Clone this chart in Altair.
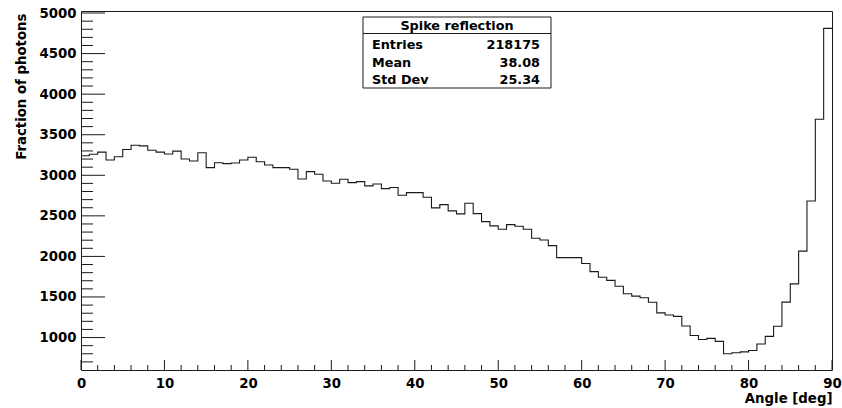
import altair as alt
import pandas as pd

# ---- data (90 bins of 1 deg, 0..90) ----
counts = [
    3240, 3260, 3285, 3189, 3228, 3318, 3370, 3362, 3308, 3286,
    3263, 3298, 3200, 3177, 3277, 3094, 3154, 3144, 3152, 3189,
    3222, 3166, 3127, 3094, 3094, 3074, 2955, 3045, 3012, 2930,
    2902, 2951, 2910, 2922, 2869, 2893, 2836, 2850, 2754, 2786,
    2786, 2729, 2598, 2639, 2561, 2524, 2655, 2528, 2429, 2376,
    2335, 2392, 2372, 2335, 2224, 2203, 2133, 1985, 1985, 1985,
    1913, 1813, 1744, 1705, 1632, 1540, 1511, 1491, 1436, 1304,
    1278, 1261, 1142, 1025, 976, 990, 953, 800, 812, 824,
    840, 920, 1015, 1140, 1437, 1661, 2065, 2684, 3690, 4811,
]
bin_low = 0
bin_high = 90

x_tick_labels = [0, 10, 20, 30, 40, 50, 60, 70, 80, 90]
x_minor_ticks = [v for v in range(2, 90, 2) if v % 10 != 0]
y_tick_labels = [1000, 1500, 2000, 2500, 3000, 3500, 4000, 4500, 5000]
y_minor_ticks = [v for v in range(700, 5001, 100) if v % 500 != 0]

stats_title = "Spike reflection"
stat_names = ["Entries", "Mean", "Std Dev"]
stat_values = ["218175", "38.08", "25.34"]

x_title = "Angle [deg]"
y_title = "Fraction of photons"

# ---- build tables ----
n = len(counts)
edges = [bin_low + (bin_high - bin_low) * i / n for i in range(n + 1)]
hist_df = pd.DataFrame({"edge": edges, "count": counts + [counts[-1]]})

W, H = 751, 359
FONT = "DejaVu Sans"
INK = "#1a1a1a"

xscale = alt.Scale(domain=[bin_low, bin_high], nice=False, zero=False)
yscale = alt.Scale(domain=[600, 5025], nice=False, zero=False)

x_axis = alt.Axis(values=x_tick_labels, format="d", title=x_title,
                  labelBaseline="top", labelPadding=6,
                  labelFlush=False, labelOverlap=False,
                  titleAnchor="end", titleAlign="right",
                  titleX=W, titleY=32, titleBaseline="alphabetic")
y_axis = alt.Axis(values=y_tick_labels, format="d", title=y_title,
                  labelPadding=5, labelOverlap=False,
                  titleAngle=-90, titleAlign="right",
                  titleBaseline="middle", titleX=-60, titleY=2)

hist = alt.Chart(hist_df).mark_line(
    interpolate="step-after", color=INK, strokeWidth=1.1
).encode(
    x=alt.X("edge:Q", scale=xscale, axis=x_axis),
    y=alt.Y("count:Q", scale=yscale, axis=y_axis),
)

def yticks(vals, length):
    return alt.Chart(pd.DataFrame({"v": vals})).mark_rule(
        color=INK, strokeWidth=1
    ).encode(
        y=alt.Y("v:Q", scale=yscale, axis=y_axis),
        x=alt.value(0), x2=alt.value(length),
    )

def xticks(vals, length):
    return alt.Chart(pd.DataFrame({"v": vals})).mark_rule(
        color=INK, strokeWidth=1
    ).encode(
        x=alt.X("v:Q", scale=xscale, axis=x_axis),
        y=alt.value(H), y2=alt.value(H - length),
    )

one = pd.DataFrame({"a": [0]})
BX0, BX1, BY0, BY1 = 282, 470, 6, 77

box = alt.Chart(one).mark_rect(fill="white", stroke=INK, strokeWidth=1).encode(
    x=alt.value(BX0), x2=alt.value(BX1), y=alt.value(BY0), y2=alt.value(BY1)
)
sep = alt.Chart(one).mark_rule(color=INK, strokeWidth=1).encode(
    x=alt.value(BX0), x2=alt.value(BX1), y=alt.value(22.5)
)
title_txt = alt.Chart(pd.DataFrame({"t": [stats_title]})).mark_text(
    font=FONT, fontWeight="bold", fontSize=12.8, color="black",
    align="center", baseline="alphabetic"
).encode(text="t:N", x=alt.value((BX0 + BX1) / 2), y=alt.value(18.6))

stat_layers = []
for i, (nm, vl) in enumerate(zip(stat_names, stat_values)):
    yb = 38.3 + 17.4 * i
    stat_layers.append(
        alt.Chart(pd.DataFrame({"t": [nm]})).mark_text(
            font=FONT, fontWeight="bold", fontSize=12.8, color="black",
            align="left", baseline="alphabetic"
        ).encode(text="t:N", x=alt.value(BX0 + 9), y=alt.value(yb))
    )
    stat_layers.append(
        alt.Chart(pd.DataFrame({"t": [vl]})).mark_text(
            font=FONT, fontWeight="bold", fontSize=12.8, color="black",
            align="right", baseline="alphabetic"
        ).encode(text="t:N", x=alt.value(BX1 - 11), y=alt.value(yb))
    )

chart = alt.layer(
    hist,
    yticks(y_minor_ticks, 12), yticks(y_tick_labels, 24),
    xticks(x_minor_ticks, 5), xticks(x_tick_labels, 10),
    box, sep, title_txt, *stat_layers
).properties(
    width=W, height=H,
    autosize="none",
    padding={"left": 81, "top": 11, "right": 10, "bottom": 38},
    background="white",
).configure_view(
    stroke=INK, strokeWidth=1
).configure_axis(
    domain=False, ticks=False, tickSize=0, grid=False,
    labelFont=FONT, labelFontWeight="bold", labelFontSize=13.3, labelColor="black",
    titleFont=FONT, titleFontWeight="bold", titleFontSize=13.3, titleColor="black",
)

chart.save("out.html", embed_options={"renderer": "svg", "actions": False})
